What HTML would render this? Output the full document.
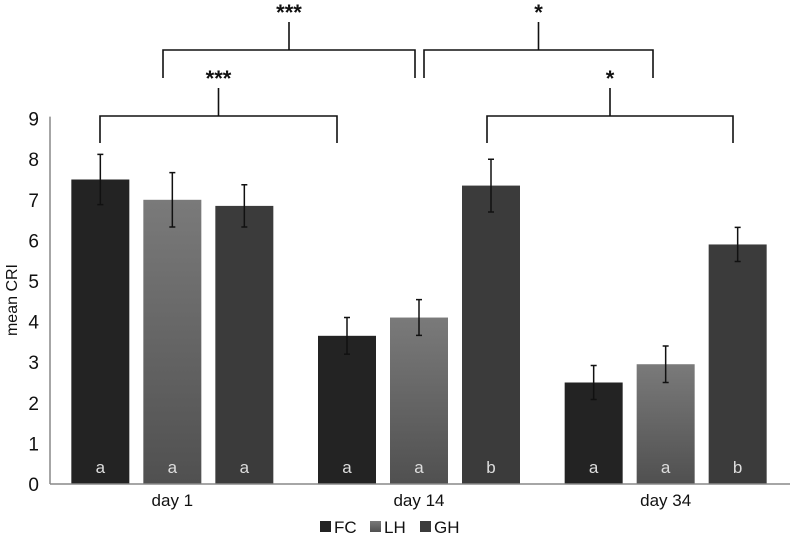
<!DOCTYPE html>
<html><head><meta charset="utf-8"><style>
body{margin:0;background:#fff}
svg text{font-family:"Liberation Sans",sans-serif}
</style></head><body>
<svg id="c" width="792" height="541" xmlns="http://www.w3.org/2000/svg">
<defs><linearGradient id="lh" x1="0" y1="0" x2="0" y2="1"><stop offset="0" stop-color="#7a7a7a"/><stop offset="1" stop-color="#505050"/></linearGradient></defs>
</svg>
<script>
const categories=["day 1","day 14","day 34"];
const seriesNames=["FC","LH","GH"];
const fc=[7.5,3.65,2.5];
const lh=[7.0,4.1,2.95];
const gh=[6.85,7.35,5.9];
const fcErr=[0.62,0.45,0.42];
const lhErr=[0.67,0.44,0.45];
const ghErr=[0.52,0.65,0.42];
const letters=[["a","a","a"],["a","a","b"],["a","a","b"]];
const yTicks=[0,1,2,3,4,5,6,7,8,9];
const svg=document.getElementById('c');const NS="http://www.w3.org/2000/svg";
const x0=50,x1=790,yb=484,unit=40.6;
const y=v=>yb-v*unit;
const catW=(x1-x0)/categories.length;
const bw=58,gap=14;
function mk(t,a,txt){const e=document.createElementNS(NS,t);for(const k in a)e.setAttribute(k,a[k]);if(txt!==undefined)e.textContent=txt;svg.appendChild(e);return e;}
const fills=["#232323","url(#lh)","#3b3b3b"];
const data=[fc,lh,gh],errs=[fcErr,lhErr,ghErr];
let a=mk('line',{x1:x0,y1:y(9)-2,x2:x0,y2:yb,stroke:'#888','stroke-width':1.5});

yTicks.forEach(t=>{const e=mk('text',{x:x0-11,y:y(t)+7,'text-anchor':'end','font-size':19,fill:'#111'},t);
});
categories.forEach((c,i)=>{
 const cx=x0+catW*(i+0.5)-1;
 data.forEach((s,j)=>{
  const bx=cx+(j-1)*(bw+gap)-bw/2;
  const r=mk('rect',{x:bx,y:y(s[i]),width:bw,height:yb-y(s[i]),fill:fills[j]});
  
  
  const ex=bx+bw/2,hi=y(s[i]+errs[j][i]),lo=y(s[i]-errs[j][i]);
  const el=mk('path',{d:`M${ex},${hi}V${lo}M${ex-3},${hi}H${ex+3}M${ex-3},${lo}H${ex+3}`,stroke:'#111','stroke-width':1.5,fill:'none'});
  
  const lt=mk('text',{x:ex,y:yb-11,'text-anchor':'middle','font-size':17,fill:'#ddd'},letters[i][j]);
  
 });
 const ct=mk('text',{x:cx,y:yb+22,'text-anchor':'middle','font-size':17,fill:'#111'},c);
 
});
a=mk('line',{x1:x0,y1:yb,x2:x1,y2:yb,stroke:'#888','stroke-width':1.5});

const yt=mk('text',{x:17,y:300,'text-anchor':'middle','font-size':16,fill:'#111',transform:'rotate(-90 17 300)'},'mean CRI');

function bracket(xa,xb,yy,drop,stem,label){
 const m=(xa+xb)/2;
 const p=mk('path',{d:`M${xa},${yy+drop}V${yy}H${xb}V${yy+drop}M${m},${yy}V${yy-stem}`,stroke:'#111','stroke-width':1.6,fill:'none'});
 
 const t=mk('text',{x:m,y:yy-stem-2,'text-anchor':'middle','font-size':22,'font-weight':'bold',fill:'#111'},label);
 
}
bracket(100,337,116,27,28,'***');
bracket(487,733,116,27,28,'*');
bracket(163,415,50,28,28,'***');
bracket(424,653,50,28,28,'*');
const lx=[320,370,420];
seriesNames.forEach((n,j)=>{
 const r=mk('rect',{x:lx[j],y:521,width:11,height:11,fill:fills[j]});
 
 const t=mk('text',{x:lx[j]+14,y:533,'font-size':17,fill:'#111'},n);
 
});
</script>
</body></html>
